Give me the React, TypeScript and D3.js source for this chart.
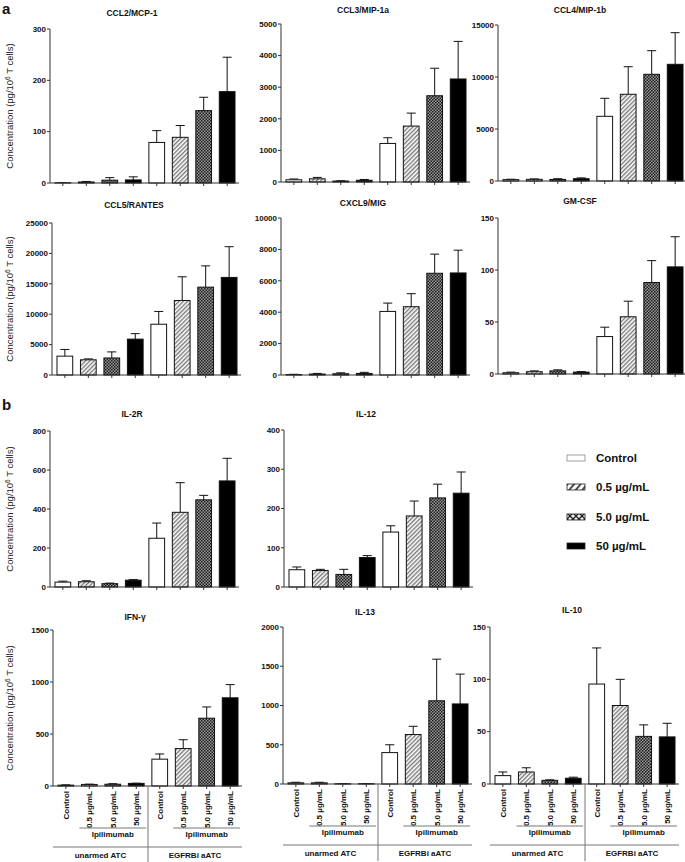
import React from "react";
import * as d3 from "d3";

const FONT = "'Liberation Sans', Arial, Helvetica, sans-serif";

// ---------- data ----------
const categories = ["Control", "0.5 µg/mL", "5.0 µg/mL", "50 µg/mL", "Control", "0.5 µg/mL", "5.0 µg/mL", "50 µg/mL"];
const groupLabels = ["unarmed ATC", "EGFRBi aATC"];
const treatmentLabel = "Ipilimumab";
const legendLabels = ["Control", "0.5 µg/mL", "5.0 µg/mL", "50 µg/mL"];
const yAxisLabel = "Concentration (pg/10";

const ccl2Mean = [0.5, 2, 5.5, 6, 79, 89, 141, 178];
const ccl2Sd = [0.5, 1, 5, 6, 23, 23, 26, 67];
const ccl3Mean = [70, 100, 30, 55, 1220, 1770, 2730, 3260];
const ccl3Sd = [25, 45, 10, 25, 180, 410, 870, 1190];
const ccl4Mean = [130, 160, 150, 220, 6220, 8340, 10260, 11220];
const ccl4Sd = [40, 40, 70, 80, 1730, 2650, 2270, 3040];
const ccl5Mean = [3100, 2500, 2800, 5900, 8350, 12250, 14450, 16050];
const ccl5Sd = [1100, 150, 1000, 900, 2100, 3900, 3500, 5050];
const cxcl9Mean = [30, 60, 80, 100, 4050, 4350, 6480, 6500];
const cxcl9Sd = [15, 40, 60, 70, 530, 830, 1220, 1450];
const gmcsfMean = [1.2, 2.2, 3, 1.8, 36, 55, 88, 103];
const gmcsfSd = [0.6, 0.8, 1, 0.5, 9, 15, 21, 29];
const il2rMean = [25, 27, 17, 35, 250, 383, 447, 544];
const il2rSd = [5, 5, 3, 3, 78, 152, 23, 116];
const il12Mean = [44, 42, 32, 75, 140, 181, 227, 239];
const il12Sd = [7, 3, 13, 5, 16, 38, 35, 54];
const ifngMean = [8, 15, 17, 25, 258, 360, 652, 848];
const ifngSd = [3, 3, 5, 2, 50, 85, 108, 127];
const il13Mean = [15, 15, 3, 3, 400, 630, 1060, 1020];
const il13Sd = [7, 7, 1, 1, 100, 105, 530, 380];
const il10Mean = [8, 11.5, 3.5, 5.5, 95.5, 75, 45.5, 45];
const il10Sd = [3.5, 4, 0.5, 1, 34.5, 25, 11, 13];

// ---------- layout ----------
const PW = 188;
const fills = ["#ffffff", "url(#hatch)", "url(#cross)", "#000000"];

type PanelDef = {
  title: string; mean: number[]; sd: number[]; yMax: number; yStep: number;
  ax: number; yTop: number; y0: number; titleY: number; yLabel: boolean; xLabels: boolean;
};

const panels: PanelDef[] = [
  { title: "CCL2/MCP-1", mean: ccl2Mean, sd: ccl2Sd, yMax: 300, yStep: 100, ax: 50, yTop: 29, y0: 183, titleY: 13, yLabel: true, xLabels: false },
  { title: "CCL3/MIP-1a", mean: ccl3Mean, sd: ccl3Sd, yMax: 5000, yStep: 1000, ax: 281, yTop: 24, y0: 182, titleY: 10, yLabel: false, xLabels: false },
  { title: "CCL4/MIP-1b", mean: ccl4Mean, sd: ccl4Sd, yMax: 15000, yStep: 5000, ax: 498, yTop: 25, y0: 181, titleY: 10, yLabel: false, xLabels: false },
  { title: "CCL5/RANTES", mean: ccl5Mean, sd: ccl5Sd, yMax: 25000, yStep: 5000, ax: 52, yTop: 223, y0: 375, titleY: 205, yLabel: true, xLabels: false },
  { title: "CXCL9/MIG", mean: cxcl9Mean, sd: cxcl9Sd, yMax: 10000, yStep: 2000, ax: 281, yTop: 218, y0: 375, titleY: 203, yLabel: false, xLabels: false },
  { title: "GM-CSF", mean: gmcsfMean, sd: gmcsfSd, yMax: 150, yStep: 50, ax: 498, yTop: 218, y0: 374, titleY: 201, yLabel: false, xLabels: false },
  { title: "IL-2R", mean: il2rMean, sd: il2rSd, yMax: 800, yStep: 200, ax: 50, yTop: 431, y0: 587, titleY: 414, yLabel: true, xLabels: false },
  { title: "IL-12", mean: il12Mean, sd: il12Sd, yMax: 400, yStep: 100, ax: 284, yTop: 430, y0: 587, titleY: 414, yLabel: false, xLabels: false },
  { title: "IFN-γ", mean: ifngMean, sd: ifngSd, yMax: 1500, yStep: 500, ax: 53, yTop: 630, y0: 786, titleY: 617, yLabel: true, xLabels: true },
  { title: "IL-13", mean: il13Mean, sd: il13Sd, yMax: 2000, yStep: 500, ax: 283, yTop: 627, y0: 784, titleY: 612, yLabel: false, xLabels: true },
  { title: "IL-10", mean: il10Mean, sd: il10Sd, yMax: 150, yStep: 50, ax: 490, yTop: 627, y0: 784, titleY: 610, yLabel: false, xLabels: true },
];

function Panel({ p }: { p: PanelDef }) {
  const idx = d3.range(categories.length);
  const x = d3.scaleBand<number>().domain(idx).range([p.ax + 1, p.ax + 1 + PW]).paddingInner(0.33).paddingOuter(0.17);
  const y = d3.scaleLinear().domain([0, p.yMax]).range([p.y0, p.yTop]);
  const ticks = d3.range(0, p.yMax + p.yStep / 2, p.yStep);
  const bw = x.bandwidth();
  const axisEnd = p.ax + 1 + PW;
  const divX = (x(3)! + bw + x(4)!) / 2;
  const axisColor = "#333";
  return (
    <g>
      <text x={p.ax + 82} y={p.titleY} dy="0.35em" textAnchor="middle" fontSize={8.5} fontWeight="bold" fill="#111">{p.title}</text>
      {p.yLabel && (
        <text transform={`translate(13,${(p.yTop + p.y0) / 2}) rotate(-90)`} textAnchor="middle" fontSize={9.5} fill="#222">
          {yAxisLabel}<tspan dy={-3.5} fontSize={6.5}>6</tspan><tspan dy={3.5}> T cells)</tspan>
        </text>
      )}
      {p.mean.map((m, i) => {
        const cx = x(i)! + bw / 2;
        const yt = y(m);
        const ye = y(m + p.sd[i]);
        return (
          <g key={i}>
            <line x1={cx} x2={cx} y1={yt} y2={ye} stroke="#111" strokeWidth={1} />
            <line x1={cx - 4.5} x2={cx + 4.5} y1={ye} y2={ye} stroke="#111" strokeWidth={1} />
            <rect x={x(i)!} y={yt} width={bw} height={Math.max(0, p.y0 - yt)} fill={fills[i % 4]} stroke="#111" strokeWidth={1} />
          </g>
        );
      })}
      <line x1={p.ax} x2={p.ax} y1={p.yTop} y2={p.y0} stroke={axisColor} strokeWidth={1} />
      {ticks.map((t) => (
        <g key={t}>
          <line x1={p.ax - 3} x2={p.ax} y1={y(t)} y2={y(t)} stroke={axisColor} strokeWidth={1} />
          <text x={p.ax - 4} y={y(t)} dy="0.35em" textAnchor="end" fontSize={8} fontWeight="bold" fill="#111">{t}</text>
        </g>
      ))}
      <line x1={p.ax} x2={axisEnd} y1={p.y0} y2={p.y0} stroke={axisColor} strokeWidth={1} />
      {idx.map((i) => (
        <line key={i} x1={x(i)! + bw / 2} x2={x(i)! + bw / 2} y1={p.y0} y2={p.y0 + 3} stroke={axisColor} strokeWidth={1} />
      ))}
      {p.xLabels && (
        <g>
          {idx.map((i) => (
            <text key={i} transform={`translate(${x(i)! + bw / 2 + 3},${p.y0 + 5}) rotate(-90)`} textAnchor="end" fontSize={8} fontWeight="bold" fill="#111">{categories[i]}</text>
          ))}
          {[0, 1].map((g) => {
            const a = x(g * 4 + 1)! - 2;
            const b = x(g * 4 + 3)! + bw + 2;
            const ga = g === 0 ? p.ax : divX;
            const gb = g === 0 ? divX : axisEnd;
            return (
              <g key={g}>
                <line x1={a} x2={b} y1={p.y0 + 42} y2={p.y0 + 42} stroke="#777" strokeWidth={1} />
                <text x={(a + b) / 2} y={p.y0 + 51} textAnchor="middle" fontSize={8} fontWeight="bold" fill="#111">{treatmentLabel}</text>
                <line x1={ga} x2={gb} y1={p.y0 + 61} y2={p.y0 + 61} stroke="#777" strokeWidth={1} />
                <text x={(ga + gb) / 2} y={p.y0 + 72} textAnchor="middle" fontSize={8} fontWeight="bold" fill="#111">{groupLabels[g]}</text>
              </g>
            );
          })}
          <line x1={divX} x2={divX} y1={p.y0} y2={p.y0 + 77} stroke="#777" strokeWidth={1} />
        </g>
      )}
    </g>
  );
}

function Legend() {
  const lf = ["#ffffff", "url(#hatchL)", "url(#crossL)", "#000000"];
  const rows = [458, 487, 517, 546];
  return (
    <g>
      {legendLabels.map((l, i) => (
        <g key={l}>
          <rect x={567} y={rows[i] - 3} width={18} height={6} fill={lf[i]} stroke={i === 0 ? "#888" : "#222"} strokeWidth={0.8} />
          <text x={596} y={rows[i]} dy="0.35em" fontSize={11.5} fontWeight="bold" fill="#111">{l}</text>
        </g>
      ))}
    </g>
  );
}

export default function App() {
  return (
    <svg width={685} height={862} style={{ position: "absolute", left: 0, top: 0, background: "#fff" }} fontFamily={FONT}>
      <defs>
        <pattern id="hatch" patternUnits="userSpaceOnUse" width={3} height={3} patternTransform="rotate(45)">
          <rect width={3} height={3} fill="#fff" />
          <line x1={0.75} y1={0} x2={0.75} y2={3} stroke="#555" strokeWidth={1.1} />
        </pattern>
        <pattern id="cross" patternUnits="userSpaceOnUse" width={3} height={3}>
          <rect width={3} height={3} fill="#9a9a9a" />
          <rect x={0} y={0} width={1.5} height={1.5} fill="#1a1a1a" />
          <rect x={1.5} y={1.5} width={1.5} height={1.5} fill="#1a1a1a" />
        </pattern>
        <pattern id="hatchL" patternUnits="userSpaceOnUse" width={5} height={5} patternTransform="rotate(40)">
          <rect width={5} height={5} fill="#fff" />
          <line x1={1} y1={0} x2={1} y2={5} stroke="#111" strokeWidth={1.5} />
        </pattern>
        <pattern id="crossL" patternUnits="userSpaceOnUse" width={6} height={6}>
          <rect width={6} height={6} fill="#eee" />
          <path d="M0,0L6,6M6,0L0,6" stroke="#222" strokeWidth={1.3} />
        </pattern>
      </defs>
      <rect width={685} height={862} fill="#fff" />
      <text x={2} y={14} fontSize={15} fontWeight="bold" fill="#111">a</text>
      <text x={2} y={410} fontSize={15} fontWeight="bold" fill="#111">b</text>
      {panels.map((p) => (
        <Panel key={p.title} p={p} />
      ))}
      <Legend />
    </svg>
  );
}
